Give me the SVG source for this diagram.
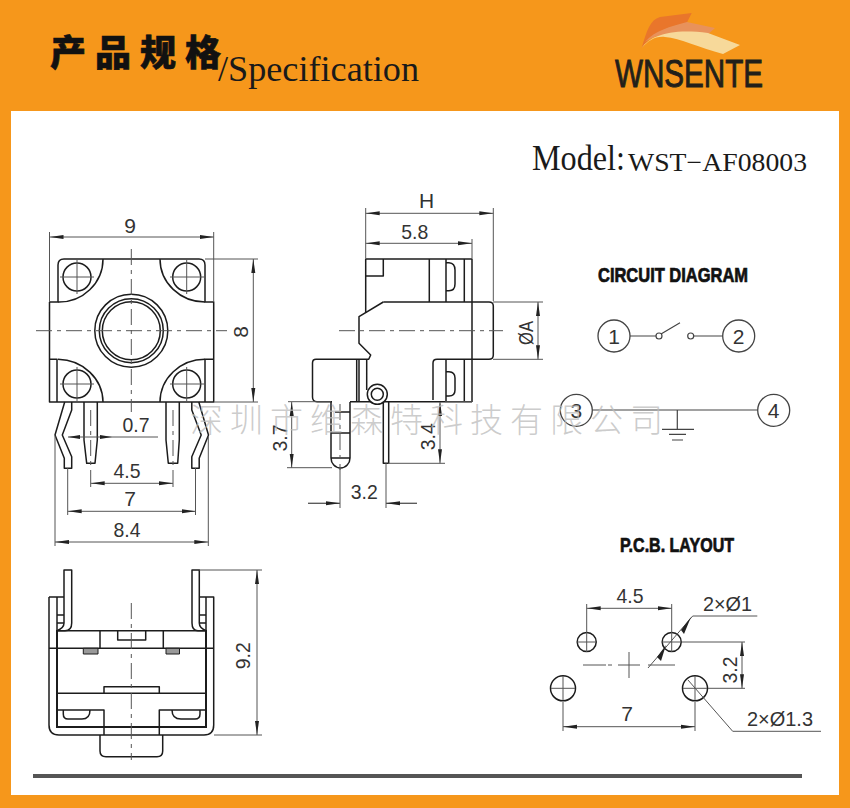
<svg xmlns="http://www.w3.org/2000/svg" width="850" height="808" viewBox="0 0 850 808">
<style>
.o{fill:none;stroke:#1c1c1c;stroke-width:1.5;stroke-linejoin:round}
.t{fill:none;stroke:#1c1c1c;stroke-width:2}
.f{fill:#fff;stroke:#1c1c1c;stroke-width:1.5;stroke-linejoin:round}
.d{fill:none;stroke:#555;stroke-width:1}
.a{fill:none;stroke:#555;stroke-width:1;marker-start:url(#ar);marker-end:url(#ar)}
.e{fill:none;stroke:#555;stroke-width:1;marker-end:url(#ar)}
.c{fill:none;stroke:#555;stroke-width:1;stroke-dasharray:16 5 4 5}
.n{font-family:"Liberation Sans",Arial,sans-serif;font-size:21px;fill:#333;text-anchor:middle}
.l{font-family:"Liberation Sans",Arial,sans-serif;font-size:21px;fill:#333}
.h{font-family:"Liberation Sans",Arial,sans-serif;font-size:19.5px;font-weight:700;fill:#111;stroke:#111;stroke-width:.7}
.s{font-family:"Liberation Serif","Times New Roman",serif;fill:#1a1a1a}
.w{fill:#fff;stroke:#444;stroke-width:1.3}
</style>
<defs>
<marker id="ar" markerUnits="userSpaceOnUse" markerWidth="14" markerHeight="5" refX="14" refY="2.5" orient="auto-start-reverse"><path d="M14,2.5 L0,0.5 L0,4.5Z" fill="#222"/></marker>
</defs>
<rect width="850" height="808" fill="#F6971B"/>
<rect x="11" y="111" width="828" height="684" fill="#fff"/>
<rect x="33" y="774" width="769" height="4" fill="#555"/>

<g id="header">
<text x="50" y="66" font-family="'Noto Sans CJK SC',sans-serif" font-size="36" font-weight="900" letter-spacing="9" fill="#111" stroke="#111" stroke-width=".6">产品规格</text>
<text class="s" x="218" y="81" font-size="36" textLength="201" lengthAdjust="spacingAndGlyphs">/Specification</text>
</g>

<g id="logo">
<path d="M641.7,48C647,30 650,20 660,17L691.7,13L686.7,23C670,27 655,30 641.7,48Z" fill="#E9762B"/>
<path d="M645,42C655,30 670,27 687,22L715,28L705,37C680,31 660,32 645,42Z" fill="#E8925B"/>
<path d="M641.7,48C650,36 670,28 708,33L740,45L723,54C700,48 680,38 665,37C655,36 648,41 641.7,48Z" fill="#F7D99A"/>
<text x="615" y="87" font-family="'Liberation Sans',Arial,sans-serif" font-size="38" fill="#221F1A" stroke="#221F1A" stroke-width=".9" textLength="148" lengthAdjust="spacingAndGlyphs">WNSENTE</text>
</g>

<g id="model">
<text class="s" x="532" y="170" font-size="35" textLength="93" lengthAdjust="spacingAndGlyphs">Model:</text>
<text class="s" x="628" y="171" font-size="26" textLength="179" lengthAdjust="spacingAndGlyphs">WST−AF08003</text>
</g>

<g id="top-view">
<path class="o" d="M49.5,302H58V265Q58,259 64,259H103Q104,259 160,259H199Q205,259 205,265V302H213.7V359.3H205V402H49.5V359.3H57V402M213.7,359.3V402H205M49.5,302V359.3M49.5,359.3H57M205,359.3H213.7"/>
<path class="o" d="M58,302A44,43 0 0 0 103,259M205,302A45,43 0 0 1 160,259M58,359.3A46,43 0 0 1 103,402M205,359.3A45,43 0 0 0 160,402"/>
<circle class="o" cx="131.3" cy="330.7" r="36.5"/><circle class="o" cx="131.3" cy="330.7" r="32"/><circle class="o" cx="131.3" cy="330.7" r="29"/>
<g class="o"><circle cx="77" cy="277" r="14"/><circle cx="186.7" cy="277" r="14"/><circle cx="77" cy="384" r="14"/><circle cx="186.7" cy="384" r="14"/></g>
<path class="d" d="M60,277H94M77,260V294M170,277H204M186.7,260V294M60,384H94M77,367V401M170,384H204M186.7,367V401"/>
<path class="o" d="M64.7,402L55,435L64.3,458.3V468.3H71.7V456.7L62.3,435L71.7,410V402"/>
<path class="o" d="M198.8,402L208.5,435L199.2,458.3V468.3H191.8V456.7L201.2,435L191.8,410V402"/>
<path class="o" d="M84,402V440L86.7,463.3H95L97.3,440V402M166,402V440L168.3,463.3H177.7L179.3,440V402"/>
<path class="c" d="M36,330.7H227M131.3,249V412M90.7,410V470M173,410V470"/>
<path class="d" d="M49.5,232V302M213.7,232V302M205,259H258M214,402H258M90.7,470V487M173,470V487M67.7,468V515M195.5,468V515M55,436V546M208.3,436V546"/>
<path class="a" d="M49.5,237H213.7"/><path class="a" d="M253.3,259V402"/><path class="a" d="M90.7,483.3H173"/><path class="a" d="M67.7,511.3H195.5"/><path class="a" d="M55,542H208.3"/>
<path class="d" d="M68,437H158"/><path d="M68,437L80,435V439ZM112,437L100,435V439Z" fill="#222"/>
<text class="n" x="130" y="233">9</text>
<text class="n" transform="translate(248,332) rotate(-90)">8</text>
<text class="n" x="136" y="432" textLength="27" lengthAdjust="spacingAndGlyphs">0.7</text><text class="n" x="127" y="478" textLength="27" lengthAdjust="spacingAndGlyphs">4.5</text><text class="n" x="130" y="506">7</text><text class="n" x="127" y="537" textLength="27" lengthAdjust="spacingAndGlyphs">8.4</text>
</g>

<g id="side-view">
<path class="o" d="M365.7,313V259H472V402M365.7,276H383.3V259M429.3,259V302M446,259V302M464.3,259V302M446,262.7H449Q455,263 455,270V284Q455,290.7 449,290.7H446"/>
<path class="o" d="M383.3,302H489Q493.3,302 493.3,306V355Q493.3,359.3 489,359.3H437Q433,359.3 433,363V400"/>
<path class="o" d="M383.3,302L359,316.7V343.3L370.7,355L368.7,359.3H316Q312.5,359.3 312.5,363V397Q312.5,401.7 317,401.7H332"/>
<path class="o" d="M356.7,359.3V402M359,359.3V402M366.7,359.3V390M446,359.3V402M464.3,359.3V402M446,371.7H449Q455,372 455,378V390Q455,396 449,396H446M350,401.7H367M367,401.7H472"/>
<circle class="f" cx="377.3" cy="394.3" r="10"/><circle class="o" cx="377.3" cy="394.3" r="6"/>
<path class="o" d="M331,402V458A9.5,10 0 0 0 350,458V402M335,412H350M331,433H350M331,458H350M383.3,402V463.3H388.7V402"/>
<path class="c" d="M339,330.7H503M340,404V470"/>
<path class="d" d="M365.7,208V258M493.3,208V301M472,239V258M493,302H543M493,359.3H543M288,401.7H331M287,467.7H332M445,401.7H472M388,463.3H445M340,468V508M386,463V508M340,503.3H308M386,503.3H417"/>
<path class="a" d="M365.7,213.3H493.3"/><path class="a" d="M365.7,243.3H472"/><path class="a" d="M538,302V359.3"/><path class="a" d="M291.7,402V467.7"/><path class="a" d="M440,402V463.3"/>
<path class="e" d="M308,503.3H340"/><path class="e" d="M417,503.3H386"/>
<text class="n" x="426.7" y="208">H</text><text class="n" x="414.7" y="239" textLength="27" lengthAdjust="spacingAndGlyphs">5.8</text>
<text class="n" transform="translate(533,333) rotate(-90)" textLength="24" lengthAdjust="spacingAndGlyphs">ØA</text>
<text class="n" transform="translate(286.7,438) rotate(-90)" textLength="27" lengthAdjust="spacingAndGlyphs">3.7</text>
<text class="n" transform="translate(435,436.7) rotate(-90)" textLength="27" lengthAdjust="spacingAndGlyphs">3.4</text>
<text class="n" x="364.3" y="499" textLength="27" lengthAdjust="spacingAndGlyphs">3.2</text>
</g>

<g id="bottom-view">
<path class="o" d="M49,597V725Q49,735 59,735H204Q213.7,735 213.7,725V597H206M49,597H57"/>
<path class="t" d="M57,630V727H206V630"/>
<path class="o" d="M57,597V631M206,597V631M57,597H64M199,597H206M57,615H64M57,623H64M199,615H206M199,623H206M49,648.3H214"/>
<path class="f" d="M64,570H71.7V623Q71.7,630.7 65,630.7H57Q64,628 64,623Z"/>
<path class="f" d="M192,570H199.3V623Q199.3,628 206,630.7H198Q192,630.7 192,623Z"/>
<path class="o" d="M57,630.7H206M100,630.7V648.3M163.3,630.7V648.3M117.7,630.7V640H145.7V630.7M104,693.3V686.7H159.3V693.3M57,693.3H206M57,710H104V735M206,710H159.3V735M63.3,710V714Q63.3,719 68,719H82Q90,719 90,710M200,710V714Q200,719 195,719H181Q172,719 172,710"/>
<path d="M83.3,648.3H98V654H83.3ZM166,648.3H179.5V654H166Z" fill="#999" stroke="#1c1c1c"/>
<path class="o" d="M100,735V751Q100,756.7 106,756.7H157Q162.7,756.7 162.7,751V735"/>
<path class="c" d="M131.3,603V760"/>
<path class="d" d="M199,570H262M214,735H262"/><path class="a" d="M257,570V735"/>
<text class="n" transform="translate(250,655.7) rotate(-90)" textLength="27" lengthAdjust="spacingAndGlyphs">9.2</text>
</g>

<g id="circuit">
<text class="h" x="598" y="282" textLength="150" lengthAdjust="spacingAndGlyphs">CIRCUIT DIAGRAM</text>
<g id="connectors-circuit" fill="none" stroke="#444" stroke-width="1.2">
<path d="M630,336H656M661,334L680,322.7M694,336H722.7M592.3,410H757.7M677.3,410V429.3M662,429.3H694M669,434.3H686M672,440H683"/>
<circle cx="659" cy="336" r="3"/><circle cx="690.7" cy="336" r="3"/>
</g>
<g id="pin1"><circle class="w" cx="614" cy="336" r="16"/><text class="n" x="614" y="343.5">1</text></g>
<g id="pin2"><circle class="w" cx="738.7" cy="336" r="16"/><text class="n" x="738.7" y="343.5">2</text></g>
<g id="pin3"><circle class="w" cx="576.3" cy="410.3" r="16"/><text class="n" x="576.3" y="418">3</text></g>
<g id="pin4"><circle class="w" cx="773.7" cy="410.3" r="16"/><text class="n" x="773.7" y="418">4</text></g>
</g>

<g id="pcb">
<text class="h" x="620" y="552" textLength="114" lengthAdjust="spacingAndGlyphs">P.C.B. LAYOUT</text>
<g class="o"><circle cx="586.7" cy="642" r="9.5"/><circle cx="671.7" cy="642" r="9.5"/><circle cx="563" cy="688.3" r="12.5"/><circle cx="695" cy="688.3" r="12.5"/></g>
<path class="d" d="M577,642H596M586.7,632V652M662,642H681M671.7,632V652M551,688.3H575M563,676V700M683,688.3H707M695,676V700"/>
<path class="d" d="M629,652V678M583,665H606M608,665H612M618,665H640M648,665H675"/>
<path class="d" d="M648,668L692.7,616H757.3M688,680L732.7,731.3H821M586.7,604V632M671.7,604V632M682,642H745M708,688.3H745M563,702V731M695,702V731"/>
<path d="M681,630L691,617L684,634ZM657,657L666,645L661,661Z" fill="#222"/>
<path class="a" d="M586.7,608.3H671.7"/><path class="a" d="M742,642V688.3"/><path class="a" d="M563,726.7H695"/>
<text class="n" x="630" y="603" textLength="27" lengthAdjust="spacingAndGlyphs">4.5</text>
<text class="l" x="703" y="611" textLength="49" lengthAdjust="spacingAndGlyphs">2×Ø1</text>
<text class="n" transform="translate(736.7,670) rotate(-90)" textLength="27" lengthAdjust="spacingAndGlyphs">3.2</text>
<text class="n" x="627" y="720.7">7</text>
<text class="l" x="747" y="725.7" textLength="66" lengthAdjust="spacingAndGlyphs">2×Ø1.3</text>
</g>

<text id="watermark" x="190" y="432" font-family="'Noto Sans CJK SC',sans-serif" font-size="33" font-weight="300" letter-spacing="7" fill="#bbb" fill-opacity=".75">深圳市维森特科技有限公司</text>
</svg>
